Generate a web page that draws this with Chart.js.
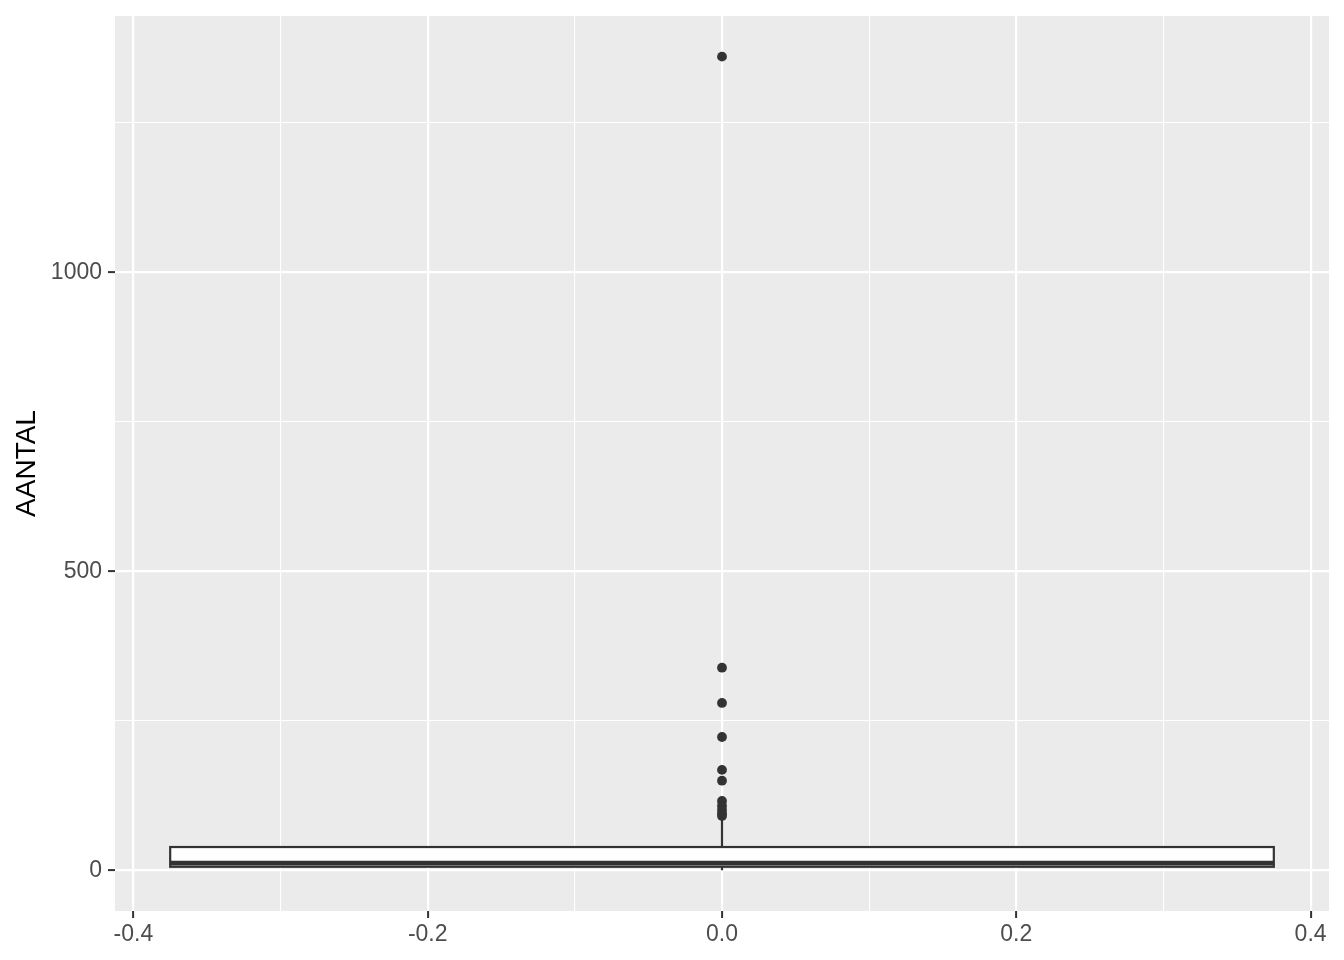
<!DOCTYPE html>
<html>
<head>
<meta charset="utf-8">
<script src="https://cdn.jsdelivr.net/npm/chart.js@4"></script>
<style>
  body { margin: 0; background: #fff; }
  #wrap { width: 1344px; height: 960px; }
</style>
</head>
<body>
<div id="wrap"><canvas id="myChart" width="1344" height="960"></canvas></div>
<script>
// box summary for AANTAL: lower whisker, Q1, median, Q3, upper whisker
const boxStats = [0, 6, 12, 39, 86];
const outliers = [1361, 339, 280, 223, 168, 150, 116, 108, 101, 95, 91];
const boxHalfWidth = 0.375;

const yTicks = [0, 250, 500, 750, 1000, 1250];
const yLabels = [0, 500, 1000];
const xTicks = [-0.4, -0.3, -0.2, -0.1, 0, 0.1, 0.2, 0.3, 0.4];
const xLabels = [-0.4, -0.2, 0, 0.2, 0.4];

const ctx = document.getElementById('myChart');
const dark = '#333333';

function isMajor(list, v) {
    return list.some(l => Math.abs(l - v) < 1e-9);
}

const panelBg = {
    id: 'panelBg',
    beforeDraw(chart) {
        const a = chart.chartArea;
        const c = chart.ctx;
        c.save();
        c.fillStyle = '#EBEBEB';
        c.fillRect(a.left, a.top, a.right - a.left, a.bottom - a.top);
        c.restore();
    }
};

const boxPlot = {
    id: 'boxPlot',
    beforeDatasetsDraw(chart) {
        const xs = chart.scales.x, ys = chart.scales.y;
        const c = chart.ctx;
        const [lo, q1, med, q3, hi] = boxStats;
        const x0 = xs.getPixelForValue(0);
        const xl = xs.getPixelForValue(-boxHalfWidth);
        const xr = xs.getPixelForValue(boxHalfWidth);
        c.save();
        c.strokeStyle = dark;
        c.lineWidth = 2.2;
        // whiskers
        c.beginPath();
        c.moveTo(x0, ys.getPixelForValue(q3));
        c.lineTo(x0, ys.getPixelForValue(hi));
        c.moveTo(x0, ys.getPixelForValue(q1));
        c.lineTo(x0, ys.getPixelForValue(lo));
        c.stroke();
        // box
        const yt = ys.getPixelForValue(q3), yb = ys.getPixelForValue(q1);
        c.fillStyle = '#FFFFFF';
        c.fillRect(xl, yt, xr - xl, yb - yt);
        c.strokeRect(xl, yt, xr - xl, yb - yt);
        // median
        c.lineWidth = 4.6;
        c.beginPath();
        c.moveTo(xl, ys.getPixelForValue(med));
        c.lineTo(xr, ys.getPixelForValue(med));
        c.stroke();
        c.restore();
    }
};

new Chart(ctx, {
    type: 'scatter',
    data: {
        datasets: [{
            label: 'AANTAL',
            data: outliers.map(v => ({ x: 0, y: v })),
            backgroundColor: dark,
            borderWidth: 0,
            pointRadius: 4.9,
            pointHoverRadius: 4.9
        }]
    },
    options: {
        responsive: false,
        animation: false,
        layout: { padding: { top: 16, right: 15, left: 0, bottom: 0 } },
        plugins: { legend: { display: false }, tooltip: { enabled: false } },
        scales: {
            x: {
                type: 'linear',
                min: -0.4125,
                max: 0.4125,
                afterBuildTicks: s => { s.ticks = xTicks.map(v => ({ value: v })); },
                afterFit: s => { s.height = 49; s.paddingLeft = 0; s.paddingRight = 0; },
                border: { display: false },
                grid: {
                    color: '#FFFFFF',
                    lineWidth: c => isMajor(xLabels, c.tick.value) ? 2.2 : 1.1,
                    tickLength: 7,
                    tickWidth: 2,
                    tickColor: c => isMajor(xLabels, c.tick.value) ? dark : 'rgba(0,0,0,0)'
                },
                ticks: {
                    autoSkip: false,
                    maxRotation: 0,
                    padding: 3,
                    color: '#4D4D4D',
                    font: { family: '"Liberation Sans", Arial, sans-serif', size: 23 },
                    callback: v => isMajor(xLabels, v) ? v.toFixed(1) : ''
                }
            },
            y: {
                type: 'linear',
                min: -68,
                max: 1429,
                afterBuildTicks: s => { s.ticks = yTicks.map(v => ({ value: v })); },
                afterFit: s => { s.width = 115; s.paddingTop = 0; s.paddingBottom = 0; },
                border: { display: false },
                grid: {
                    color: '#FFFFFF',
                    lineWidth: c => isMajor(yLabels, c.tick.value) ? 2.2 : 1.1,
                    tickLength: 7,
                    tickWidth: 2,
                    tickColor: c => isMajor(yLabels, c.tick.value) ? dark : 'rgba(0,0,0,0)'
                },
                ticks: {
                    autoSkip: false,
                    padding: 6,
                    color: '#4D4D4D',
                    font: { family: '"Liberation Sans", Arial, sans-serif', size: 23 },
                    callback: v => isMajor(yLabels, v) ? String(v) : ''
                },
                title: {
                    display: true,
                    text: 'AANTAL',
                    color: '#000000',
                    font: { family: '"Liberation Sans", Arial, sans-serif', size: 28 },
                    padding: { top: 10, bottom: 0 }
                }
            }
        }
    },
    plugins: [panelBg, boxPlot]
});
</script>
</body>
</html>
